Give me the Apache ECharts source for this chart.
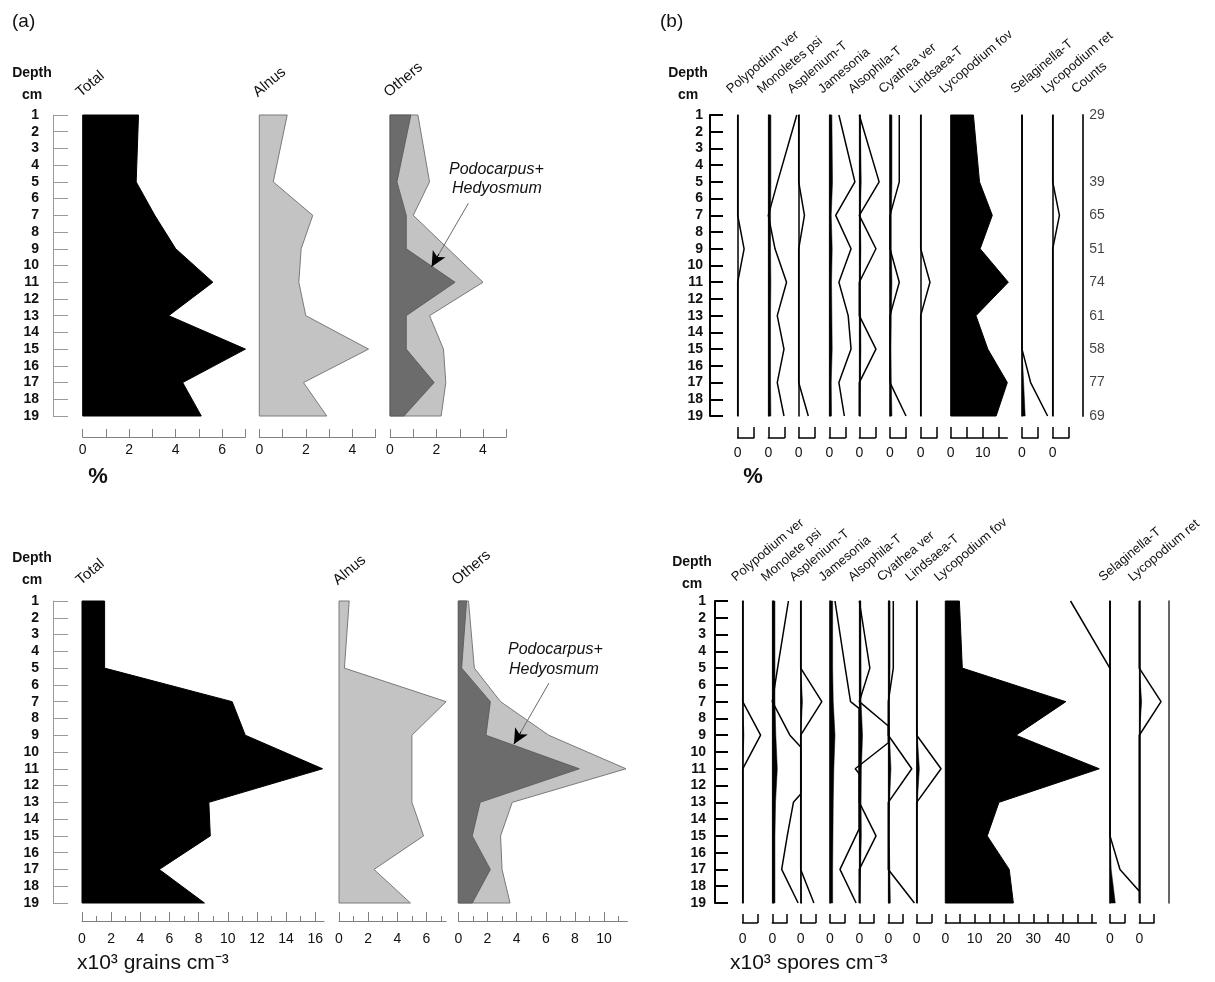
<!DOCTYPE html>
<html><head><meta charset="utf-8">
<script src="https://cdn.jsdelivr.net/npm/echarts@6/dist/echarts.min.js"></script>
<style>html,body{margin:0;padding:0;background:#fff}#c{width:1215px;height:982px}</style>
</head><body><div id="c"></div>
<script>
// ---------------- DATA ----------------
const sampleDepths = [1, 5, 7, 9, 11, 13, 15, 17, 19];

// (a) top : percentages
const totalPct  = [2.4, 2.3, 3.1, 4.0, 5.6, 3.7, 7.0, 4.3, 5.1];
const alnusPct  = [1.2, 0.6, 2.3, 1.8, 1.7, 2.0, 4.7, 1.9, 2.9];
const othersPct = [1.2, 1.7, 1.0, 2.5, 4.0, 1.7, 2.3, 2.4, 2.2];
const podoPct   = [0.9, 0.3, 0.7, 0.7, 2.8, 0.7, 0.7, 1.9, 0.6];

// (a) bottom : x10^3 grains cm-3
const totalConc  = [1.55, 1.55, 10.3, 11.2, 16.5, 8.7, 8.8, 5.3, 8.4];
const alnusConc  = [0.7, 0.37, 7.35, 5.0, 5.0, 5.0, 5.8, 2.4, 4.9];
const othersConc = [0.7, 1.1, 2.9, 6.2, 11.5, 3.7, 2.9, 3.0, 3.55];
const podoConc   = [0.57, 0.23, 2.2, 1.9, 8.3, 1.5, 0.96, 2.2, 0.96];

// (b) top : spore percentages (line = exaggerated curve, fill = silhouette)
const polyPctLine   = [0, 0, 0, 2.0, 0, 0, 0, 0, 0];
const monoPctLine   = [8.9, 2.9, 0, 2.1, 5.7, 2.8, 4.9, 2.8, 4.9];
const monoPctFill   = [0.8, 0.8, 0.7, 0.7, 0.8, 0.7, 0.7, 0.7, 0.8];
const asplPctLine   = [0, 0, 1.8, 0, 0, 0, 0, 0, 3.0];
const jamePctLine   = [3.0, 8.0, 2.0, 6.8, 3.0, 5.9, 6.8, 3.0, 4.7];
const jamePctFill   = [0.8, 1.0, 0.6, 0.9, 0.7, 0.8, 0.9, 0.6, 0.7];
const alsoPctLine   = [0, 6.2, 0, 5.2, 0, 0, 5.2, 0, 0];
const alsoPctFill   = [0.3, 0.6, 0.3, 0.5, 0.3, 0.4, 0.5, 0.3, 0.2];
const cyatPctLine   = [2.9, 2.9, 0, 0, 2.9, 0, 0, 0, 5.0];
const cyatPctFill   = [0.6, 0.6, 0.4, 0.4, 0.6, 0.4, 0.3, 0.4, 0.6];
const lindPctLine   = [0, 0, 0, 0, 2.9, 0, 0, 0, 0];
const lycfovPct     = [7.1, 9.0, 13.0, 9.2, 18.0, 7.9, 11.6, 17.7, 14.2];
const selaPctLine   = [0, 0, 0, 0, 0, 0, 0, 2.7, 8.0];
const selaPctFill   = [0, 0, 0, 0, 0, 0, 0, 0.5, 1.0];
const lycretPctLine = [0, 0, 2.1, 0, 0, 0, 0, 0, 0];
const counts        = [29, 39, 65, 51, 74, 61, 58, 77, 69];

// (b) bottom : x10^3 spores cm-3  ([value, depth] where curves are cut at the next column)
const polyConcLine   = [0, 0, 0, 6.1, 0, 0, 0, 0, 0];
const polyConcFill   = [0, 0, 0, 0.4, 0, 0, 0, 0, 0];
const monoConcLine   = [[5.5,1],[1.8,5],[0,7],[6.0,9],[9.7,9.7],[9.7,12.5],[7.2,13],[5.1,15],[3.2,17],[8.8,19]];
const monoConcFill   = [0.9, 0.9, 0.9, 1.2, 1.7, 1.1, 0.9, 0.9, 0.9];
const asplConcLine   = [0, 0, 7.2, 0, 0, 0, 0, 0, 4.5];
const asplConcFill   = [0, 0, 0.6, 0, 0, 0, 0, 0, 0.3];
const jameConcLine   = [[1.7,1],[5.2,5],[7.0,7],[9.9,7.4],[9.9,14.6],[3.4,17],[8.9,19]];
const jameConcFill   = [0.9, 0.9, 1.1, 1.7, 1.3, 1.1, 1.0, 0.9, 0.9];
const alsoConcLine   = [[0,1],[3.6,5],[0,7],[9.9,8.45],[9.9,9.45],[-1.4,11],[0,11.3],[0,13],[5.7,15],[0,17],[0,19]];
const alsoConcFill   = [0.5, 0.6, 0.6, 1.1, 0.7, 0.6, 0.7, 0.4, 0];
const cyatConcLine   = [[1.7,1],[1.7,5],[0,7],[0,9],[8.0,11],[0,13],[0,17],[8.9,19]];
const cyatConcFill   = [0.6, 0.6, 0.3, 0.4, 0.9, 0.4, 0.3, 0.5, 0.7];
const lindConcLine   = [0, 0, 0, 0, 8.3, 0, 0, 0, 0];
const lindConcFill   = [0, 0, 0, 0.2, 0.9, 0.2, 0, 0, 0];
const lycfovConc     = [4.8, 5.8, 41.1, 24.1, 52.5, 18.3, 14.3, 21.8, 23.2];
const lycfovConcLine = [[42.7,1],[56.1,5]];
const selaConcLine   = [[0,1],[0,15],[3.4,17],[10.0,18.3]];
const selaConcFill   = [0, 0, 0, 0, 0, 0, 0, 0.4, 1.8];
const lycretConcLine = [0, 0, 7.4, 0, 0, 0, 0, 0, 0];
const lycretConcFill = [0, 0, 0.8, 0, 0, 0, 0, 0, 0];

// tick values / labels
const tlTotalTicks = [0,1,2,3,4,5,6,7];
const tlTotalLabels = [0,2,4,6];
const tlSmallTicks = [0,1,2,3,4,5];
const tlSmallLabels = [0,2,4];
const blTotalMajor = [0,2,4,6,8,10,12,14,16];
const blTotalMinor = [1,3,5,7,9,11,13,15];
const blAlnusMajor = [0,2,4,6];
const blAlnusMinor = [1,3,5,7];
const blOthersMajor = [0,2,4,6,8,10];
const blOthersMinor = [1,3,5,7,9,11];
const bracketTicks = [0,5];
const bracketLabels = [0];
const trLycTicks = [0,5,10,15];
const trLycLabels = [0,10];
const brLycTicks = [0,5,10,15,20,25,30,35,40,45,50];
const brLycLabels = [0,10,20,30,40];

// annotation arrows (data coordinates in the "Others" columns)
const arrowTop = {from:[3.37, 6.28], to:[1.79, 10.07]};
const arrowBot = {from:[6.22, 5.89], to:[3.82, 9.52]};

// ---------------- BUILD ----------------
const FONT = '"Liberation Sans", Arial, Helvetica, sans-serif';
const grids = [], xAxis = [], yAxis = [], series = [], graphic = [];

function pairs(vals){ return sampleDepths.map((d,i)=>[vals[i], d]); }
function addGrid(left, top, width, height){ grids.push({left, top, width, height, containLabel:false}); return grids.length-1; }
function addX(gi, opt){ xAxis.push(Object.assign({gridIndex:gi, type:'value', min:0, position:'bottom', splitLine:{show:false}}, opt)); return xAxis.length-1; }
function addY(gi, opt){ yAxis.push(Object.assign({gridIndex:gi, type:'value', inverse:true, min:1, max:19, splitLine:{show:false}}, opt)); return yAxis.length-1; }

function tickAxis(gi, max, offset, tickLen, margin, ticks, labels, color, lw){
  return addX(gi, {max, offset,
    axisLine:{show:true, onZero:false, lineStyle:{color, width:lw}},
    axisTick:{show:true, inside:true, length:tickLen, customValues:ticks, lineStyle:{color, width:lw}},
    axisLabel:{show:labels.length>0, margin, customValues:labels, fontSize:14, color:'#111', fontFamily:FONT}});
}
function minorAxis(gi, max, offset, tickLen, ticks, color, lw){
  return addX(gi, {max, offset,
    axisLine:{show:false, onZero:false},
    axisTick:{show:true, inside:true, length:tickLen, customValues:ticks, lineStyle:{color, width:lw}},
    axisLabel:{show:false}});
}
function hiddenY(gi){ return addY(gi, {show:false}); }
function zeroY(gi, color, lw){
  return addY(gi, {show:true, position:'left',
    axisLine:{show:true, onZero:false, lineStyle:{color, width:lw}},
    axisTick:{show:false}, axisLabel:{show:false}});
}
function depthAxis(left, top, h, color, lw, tickLen, margin){
  const gi = addGrid(left, top, tickLen, h);
  addX(gi, {show:false, max:1});
  addY(gi, {show:true, position:'left', interval:1,
    axisLine:{show:true, onZero:false, lineStyle:{color, width:lw}},
    axisTick:{show:true, inside:true, length:tickLen, lineStyle:{color, width:lw}},
    axisLabel:{show:true, margin, fontSize:14, fontWeight:'bold', color:'#111', fontFamily:FONT}});
}
function polySeries(xi, yi, pts, fill, stroke, lw, extra){
  return Object.assign({type:'custom', xAxisIndex:xi, yAxisIndex:yi, clip:false, silent:true,
    data: pts,
    renderItem: function(params, api){
      if (params.dataIndex !== 0) return null;
      const ring = [[0, pts[0][1]]].concat(pts, [[0, pts[pts.length-1][1]]]);
      return {type:'polygon', shape:{points: ring.map(p=>api.coord(p))},
              style:{fill, stroke, lineWidth:lw}};
    }}, extra || {});
}
function lineSeries(xi, yi, data, lw){
  return {type:'line', xAxisIndex:xi, yAxisIndex:yi, data, symbol:'none', clip:false, silent:true,
          lineStyle:{color:'#000', width:lw||1.5}, z:4};
}
function arrowMark(a, headPart){
  const near = [a.to[0] + headPart*(a.from[0]-a.to[0]), a.to[1] + headPart*(a.from[1]-a.to[1])];
  return {silent:true, label:{show:false}, animation:false,
    data:[
      [{coord:a.from, symbol:'none', lineStyle:{color:'#6a6a6a', width:1, type:'solid'}}, {coord:a.to, symbol:'none'}],
      [{coord:near, symbol:'none', lineStyle:{color:'#000', width:1, type:'solid'}}, {coord:a.to, symbol:'arrow', symbolSize:[11,15]}]
    ]};
}
function txt(x, y, text, font, align, valign, rot){
  const el = {type:'text', x, y, silent:true,
    style:{text, font, fill:'#111', textAlign:align||'left', textVerticalAlign:valign||'middle', align:align||'left', verticalAlign:valign||'middle'}};
  if (rot) el.rotation = rot;
  return el;
}
const ROT = 40*Math.PI/180;
const LIGHT = '#c3c3c3', DARK = '#6c6c6c', AXGREY = '#808080';

// spore column: wide hidden plot grid + bracket grid carrying axis/zero line
function sporeColumn(c, top, h, s, off, tickLen, margin, headerY, ticksArea, labelsArea){
  const max = c.max || 5;
  const pMin = -2, pMax = c.area ? max + 8 : 12;
  const pg = addGrid(c.left + pMin*s, top, (pMax-pMin)*s, h);
  const pxi = addX(pg, {show:false, min:pMin, max:pMax});
  const pyi = hiddenY(pg);
  const bg = addGrid(c.left, top, max*s, h);
  tickAxis(bg, max, off, tickLen, margin, c.area ? ticksArea : bracketTicks, c.area ? labelsArea : bracketLabels, '#000', 1.5);
  if (c.area) {
    hiddenY(bg);
    series.push(polySeries(pxi, pyi, pairs(c.area), '#000', '#000', 1));
    if (c.extraLine) series.push(lineSeries(pxi, pyi, c.extraLine, 1.5));
  } else {
    zeroY(bg, '#000', 1.5);
    if (c.fill) series.push(polySeries(pxi, pyi, pairs(c.fill), '#000', '#000', 0.5));
    series.push(lineSeries(pxi, pyi, c.line, 1.5));
  }
  graphic.push(txt(c.left-5, headerY, c.name, '13px '+FONT, 'left', 'bottom', ROT));
}

// ===== (a) top =====
{
  const top = 115, h = 301, s = 23.25;
  depthAxis(53, top, h, '#9a9a9a', 1, 15, 14);
  let gi = addGrid(82.7, top, 7*s, h);
  let xi = tickAxis(gi, 7, 21, 8, 6, tlTotalTicks, tlTotalLabels, AXGREY, 1);
  let yi = hiddenY(gi);
  series.push(polySeries(xi, yi, pairs(totalPct), '#000', '#000', 1));

  gi = addGrid(259.3, top, 5*s, h);
  xi = tickAxis(gi, 5, 21, 8, 6, tlSmallTicks, tlSmallLabels, AXGREY, 1);
  yi = hiddenY(gi);
  series.push(polySeries(xi, yi, pairs(alnusPct), LIGHT, '#7a7a7a', 1));

  gi = addGrid(390, top, 5*s, h);
  xi = tickAxis(gi, 5, 21, 8, 6, tlSmallTicks, tlSmallLabels, AXGREY, 1);
  yi = hiddenY(gi);
  series.push(polySeries(xi, yi, pairs(othersPct), LIGHT, '#7a7a7a', 1));
  series.push(polySeries(xi, yi, pairs(podoPct), DARK, '#555', 0.8, {markLine: arrowMark(arrowTop, 0.2)}));

  graphic.push(txt(83, 100, 'Total', '15px '+FONT, 'left', 'bottom', ROT));
  graphic.push(txt(260, 100, 'Alnus', '15px '+FONT, 'left', 'bottom', ROT));
  graphic.push(txt(391, 100, 'Others', '15px '+FONT, 'left', 'bottom', ROT));
  graphic.push(txt(449, 170, 'Podocarpus+', 'italic 16px '+FONT));
  graphic.push(txt(452, 189, 'Hedyosmum', 'italic 16px '+FONT));
  graphic.push(txt(32, 73, 'Depth', 'bold 14px '+FONT, 'center'));
  graphic.push(txt(32, 95, 'cm', 'bold 14px '+FONT, 'center'));
  graphic.push(txt(98, 477, '%', 'bold 22px '+FONT, 'center'));
  graphic.push(txt(12, 22, '(a)', '19px '+FONT));
}

// ===== (a) bottom =====
{
  const top = 601, h = 302, s = 14.58;
  depthAxis(53, top, h, '#9a9a9a', 1, 15, 14);
  const cols = [
    {left:82, max:16.6, major:blTotalMajor, minor:blTotalMinor, vals:totalConc, fill:'#000', stroke:'#000'},
    {left:339, max:7.35, major:blAlnusMajor, minor:blAlnusMinor, vals:alnusConc, fill:LIGHT, stroke:'#7a7a7a'},
    {left:458.3, max:11.6, major:blOthersMajor, minor:blOthersMinor, vals:othersConc, fill:LIGHT, stroke:'#7a7a7a'}
  ];
  cols.forEach((c, k) => {
    const gi = addGrid(c.left, top, c.max*s, h);
    const xi = tickAxis(gi, c.max, 18, 9, 11, c.major, c.major, AXGREY, 1);
    minorAxis(gi, c.max, 18, 5, c.minor, AXGREY, 1);
    const yi = hiddenY(gi);
    series.push(polySeries(xi, yi, pairs(c.vals), c.fill, c.stroke, 1));
    if (k === 2) series.push(polySeries(xi, yi, pairs(podoConc), DARK, '#555', 0.8, {markLine: arrowMark(arrowBot, 0.2)}));
  });
  graphic.push(txt(83, 588, 'Total', '15px '+FONT, 'left', 'bottom', ROT));
  graphic.push(txt(340, 588, 'Alnus', '15px '+FONT, 'left', 'bottom', ROT));
  graphic.push(txt(459, 588, 'Others', '15px '+FONT, 'left', 'bottom', ROT));
  graphic.push(txt(508, 650, 'Podocarpus+', 'italic 16px '+FONT));
  graphic.push(txt(509, 670, 'Hedyosmum', 'italic 16px '+FONT));
  graphic.push(txt(32, 558, 'Depth', 'bold 14px '+FONT, 'center'));
  graphic.push(txt(32, 580, 'cm', 'bold 14px '+FONT, 'center'));
  graphic.push(txt(77, 963, 'x10³ grains cm⁻³', '21px '+FONT));
}

// ===== (b) top =====
{
  const top = 115, h = 301, s = 3.2;
  depthAxis(710, top, h, '#000', 2, 13, 7);
  const cols = [
    {name:'Polypodium ver', left:737.7, line:pairs(polyPctLine)},
    {name:'Monoletes psi', left:768.3, line:pairs(monoPctLine), fill:monoPctFill},
    {name:'Asplenium-T', left:798.7, line:pairs(asplPctLine)},
    {name:'Jamesonia', left:829.3, line:pairs(jamePctLine), fill:jamePctFill},
    {name:'Alsophila-T', left:859.3, line:pairs(alsoPctLine), fill:alsoPctFill},
    {name:'Cyathea ver', left:890, line:pairs(cyatPctLine), fill:cyatPctFill},
    {name:'Lindsaea-T', left:920.7, line:pairs(lindPctLine)},
    {name:'Lycopodium fov', left:950.7, area:lycfovPct, max:17.7},
    {name:'Selaginella-T', left:1022, line:pairs(selaPctLine), fill:selaPctFill},
    {name:'Lycopodium ret', left:1052.7, line:pairs(lycretPctLine)}
  ];
  cols.forEach(c => sporeColumn(c, top, h, s, 22, 11, 8, 96, trLycTicks, trLycLabels));
  // counts column
  const gi = addGrid(1082.7, top, 10, h);
  const xi = addX(gi, {show:false, max:1});
  const yi = zeroY(gi, '#333', 2);
  series.push({type:'scatter', xAxisIndex:xi, yAxisIndex:yi, silent:true, symbolSize:1,
    itemStyle:{color:'rgba(0,0,0,0)'},
    data: sampleDepths.map((d,i)=>[0, d, counts[i]]),
    label:{show:true, position:'right', distance:6, formatter:p=>String(p.data[2]), fontSize:14, color:'#111', fontFamily:FONT}});
  graphic.push(txt(1077.7, 96, 'Counts', '13px '+FONT, 'left', 'bottom', ROT));
  graphic.push(txt(688, 73, 'Depth', 'bold 14px '+FONT, 'center'));
  graphic.push(txt(688, 95, 'cm', 'bold 14px '+FONT, 'center'));
  graphic.push(txt(753, 477, '%', 'bold 22px '+FONT, 'center'));
  graphic.push(txt(660, 22, '(b)', '19px '+FONT));
}

// ===== (b) bottom =====
{
  const top = 601, h = 302, s = 2.933;
  depthAxis(715, top, h, '#000', 2, 13, 9);
  const cols = [
    {name:'Polypodium ver', left:742.7, line:pairs(polyConcLine), fill:polyConcFill},
    {name:'Monolete psi', left:772.3, line:monoConcLine, fill:monoConcFill},
    {name:'Asplenium-T', left:800.7, line:pairs(asplConcLine), fill:asplConcFill},
    {name:'Jamesonia', left:830, line:jameConcLine, fill:jameConcFill},
    {name:'Alsophila-T', left:859.3, line:alsoConcLine, fill:alsoConcFill},
    {name:'Cyathea ver', left:888.3, line:cyatConcLine, fill:cyatConcFill},
    {name:'Lindsaea-T', left:916.7, line:pairs(lindConcLine), fill:lindConcFill},
    {name:'Lycopodium fov', left:945.3, area:lycfovConc, extraLine:lycfovConcLine, max:51.5},
    {name:'Selaginella-T', left:1110, line:selaConcLine, fill:selaConcFill},
    {name:'Lycopodium ret', left:1139.3, line:pairs(lycretConcLine), fill:lycretConcFill}
  ];
  cols.forEach(c => sporeColumn(c, top, h, s, 20, 9, 9, 584, brLycTicks, brLycLabels));
  const gi = addGrid(1168.7, top, 10, h);
  addX(gi, {show:false, max:1});
  zeroY(gi, '#333', 1.5);
  graphic.push(txt(692, 562, 'Depth', 'bold 14px '+FONT, 'center'));
  graphic.push(txt(692, 584, 'cm', 'bold 14px '+FONT, 'center'));
  graphic.push(txt(730, 963, 'x10³ spores cm⁻³', '21px '+FONT));
}

const chart = echarts.init(document.getElementById('c'));
chart.setOption({
  animation:false,
  backgroundColor:'#fff',
  textStyle:{fontFamily:FONT},
  grid:grids, xAxis, yAxis, series, graphic
});
</script></body></html>
